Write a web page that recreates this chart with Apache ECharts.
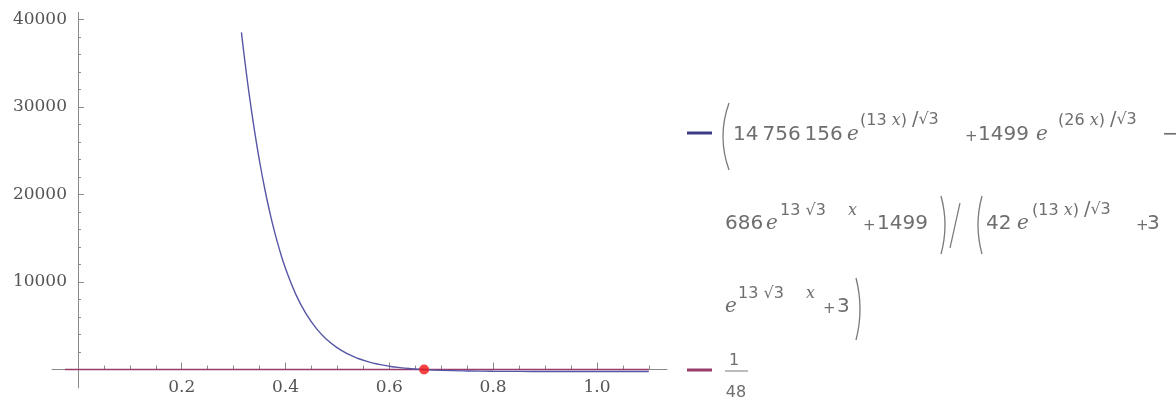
<!DOCTYPE html>
<html><head><meta charset="utf-8">
<script src="https://cdn.jsdelivr.net/npm/echarts@6/dist/echarts.min.js"></script>
<style>html,body{margin:0;padding:0;background:#fff}#c{width:1176px;height:403px}</style>
</head><body><div id="c"></div>
<script>
// ---- data ----
const curveX = [0.315,0.32,0.33,0.34,0.35,0.36,0.37,0.38,0.39,0.40,0.42,0.44,0.46,0.48,0.50,0.52,0.54,0.56,0.58,0.60,0.62,0.64,0.667,0.70,0.75,0.80,0.85,0.90,1.0,1.1];
const curveY = [38530,36020,31420,27360,23780,20630,17880,15470,13370,11540,8560,6330,4650,3400,2470,1780,1260,875,590,380,222,106,-5,-92,-163,-197,-214,-221,-227,-228];
const constX = [-0.025, 1.1];
const constY = [0.0208, 0.0208];
const markX = [0.667];
const markY = [0.0208];
const xMinorTicks = [0.05,0.1,0.15,0.2,0.25,0.3,0.35,0.4,0.45,0.5,0.55,0.6,0.65,0.7,0.75,0.8,0.85,0.9,0.95,1.0,1.05,1.1];
const xLabels = [0.2,0.4,0.6,0.8,1.0];
const yMinorTicks = [2000,4000,6000,8000,10000,12000,14000,16000,18000,20000,22000,24000,26000,28000,30000,32000,34000,36000,38000,40000];
const yLabels = [10000,20000,30000,40000];

const axisColor = '#8a8a8a';
const labelStyle = {fontFamily:'DejaVu Serif', fontSize:17, color:'#555'};
const txt = '#6e6e6e';

const rich = {
  b:{fontFamily:'DejaVu Sans', fontSize:20, fill:txt},
  e:{fontFamily:'DejaVu Serif', fontStyle:'italic', fontSize:20, fill:txt},
  p:{fontFamily:'DejaVu Sans', fontSize:15, fill:txt},
  s:{fontFamily:'DejaVu Sans', fontSize:16, fill:txt},
  si:{fontFamily:'DejaVu Serif', fontStyle:'italic', fontSize:16, fill:txt},
  sl:{fontFamily:'DejaVu Sans', fontSize:19, fill:txt}
};
function piece(x, y, text){
  return {type:'text', style:{x:x, y:y, text:text, rich:rich, verticalAlign:'middle', align:'left'}, z:10};
}
function paren(x, yTop, yBot, bulge){
  return {type:'bezierCurve', shape:{x1:x, y1:yTop, x2:x, y2:yBot, cpx1:x+bulge, cpy1:(yTop+yBot)/2}, style:{stroke:'#7a7a7a', lineWidth:1.3, fill:null}, z:10};
}
function supFrac(x, y, n){
  return [piece(x, y, '{s|(' + n + ' }{si|x}{s|)}'), piece(x + 52, y - 1, '{sl|/}{s|√3}')];
}
function supRoot(x, y, xx){
  return [piece(x, y, '{s|13 √3}'), piece(xx, y, '{si|x}')];
}

const r1 = 135, r1s = 121, r2 = 224, r2s = 211, r3 = 307, r3s = 294;

const chart = echarts.init(document.getElementById('c'), null, {renderer:'canvas'});
chart.setOption({
  animation:false,
  backgroundColor:'#fff',
  grid:{left:52, right:509, top:12.5, bottom:15.1, outerBoundsMode:'none', containLabel:false},
  xAxis:[{
    type:'value', min:-0.05, max:1.135, position:'bottom',
    axisLine:{onZero:true, lineStyle:{color:axisColor, width:1}},
    axisTick:{inside:true, length:4, customValues:xMinorTicks, lineStyle:{color:axisColor}},
    axisLabel:Object.assign({customValues:xLabels, margin:-9, formatter:v=>v.toFixed(1)}, labelStyle),
    splitLine:{show:false}
  },{
    type:'value', min:-0.05, max:1.135, position:'bottom',
    axisLine:{show:false, onZero:true},
    axisTick:{inside:true, length:7, customValues:xLabels, lineStyle:{color:axisColor}},
    axisLabel:{show:false}, splitLine:{show:false}
  }],
  yAxis:[{
    type:'value', min:-2100, max:40800, position:'left',
    axisLine:{onZero:true, lineStyle:{color:axisColor, width:1}},
    axisTick:{inside:true, length:3, customValues:yMinorTicks, lineStyle:{color:axisColor}},
    axisLabel:Object.assign({customValues:yLabels, margin:-15, formatter:v=>String(v)}, labelStyle),
    splitLine:{show:false}
  },{
    type:'value', min:-2100, max:40800, position:'left',
    axisLine:{show:false, onZero:true},
    axisTick:{inside:true, length:6, customValues:yLabels, lineStyle:{color:axisColor}},
    axisLabel:{show:false}, splitLine:{show:false}
  }],
  series:[
    {type:'line', xAxisIndex:0, yAxisIndex:0, data:constX.map((x,i)=>[x,constY[i]]), showSymbol:false, lineStyle:{color:'#983c6c', width:1.6}, z:3},
    {type:'line', xAxisIndex:0, yAxisIndex:0, data:curveX.map((x,i)=>[x,curveY[i]]), showSymbol:false, smooth:0.5, lineStyle:{color:'#5656a6', width:1.4}, z:4},
    {type:'scatter', xAxisIndex:0, yAxisIndex:0, data:markX.map((x,i)=>[x,markY[i]]), symbolSize:10, itemStyle:{color:'#f01414'}, z:5}
  ],
  graphic:[].concat(
    [
      {type:'line', shape:{x1:687,y1:133,x2:712,y2:133}, style:{stroke:'#3c3c84', lineWidth:3}},
      {type:'line', shape:{x1:687,y1:370,x2:712,y2:370}, style:{stroke:'#983c6c', lineWidth:3}},
      paren(729,103,170,-12),
      piece(733, r1, '{b|14\u2009756\u2009156}'),
      piece(847, r1, '{e|e}'),
      piece(965, r1+2, '{p|+}'),
      piece(978, r1, '{b|1499}'),
      piece(1036, r1, '{e|e}'),
      piece(1162, r1, '{b|−}'),
      piece(725, r2, '{b|686}'),
      piece(766, r2, '{e|e}'),
      piece(863, r2+2, '{p|+}'),
      piece(877, r2, '{b|1499}'),
      paren(941,196,254,8),
      {type:'line', shape:{x1:960,y1:203,x2:950,y2:248}, style:{stroke:'#7a7a7a', lineWidth:1.2}},
      paren(982,196,254,-8),
      piece(986, r2, '{b|42}'),
      piece(1017, r2, '{e|e}'),
      piece(1136, r2+2, '{p|+}'),
      piece(1147, r2, '{b|3}'),
      piece(725, r3, '{e|e}'),
      piece(823, r3+2, '{p|+}'),
      piece(837, r3, '{b|3}'),
      paren(856,278,340,8),
      {type:'text', style:{x:734,y:361,text:'1',fontFamily:'DejaVu Sans',fontSize:16,fill:txt,align:'center',verticalAlign:'middle'}},
      {type:'line', shape:{x1:725,y1:371,x2:748,y2:371}, style:{stroke:'#7a7a7a', lineWidth:1}},
      {type:'text', style:{x:736,y:393,text:'48',fontFamily:'DejaVu Sans',fontSize:16,fill:txt,align:'center',verticalAlign:'middle'}}
    ],
    supFrac(860, r1s, '13'),
    supFrac(1058, r1s, '26'),
    supFrac(1032, r2s, '13'),
    supRoot(780, r2s, 848),
    supRoot(738, r3s, 806)
  )
});
</script></body></html>
